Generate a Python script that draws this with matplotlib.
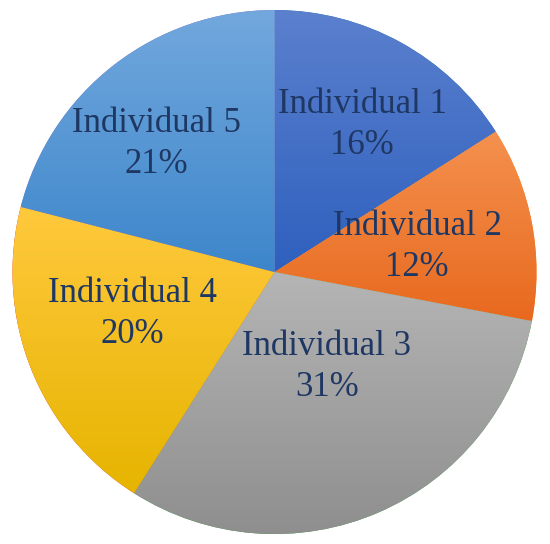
import matplotlib
matplotlib.use('Agg')
import matplotlib.pyplot as plt
import numpy as np
from matplotlib.colors import LinearSegmentedColormap

# data
names = ["Individual 1", "Individual 2", "Individual 3", "Individual 4", "Individual 5"]
shares = [16, 12, 31, 20, 21]

# gradient colours (top -> bottom) for each slice, Excel-like
top_colors = ["#5B80CE", "#F4914F", "#B5B5B5", "#FFC93D", "#72A8DD"]
bottom_colors = ["#2E60BE", "#E8691E", "#8E8E8E", "#E6B400", "#3D86CB"]

# label centres (pie radius units)
label_xy = [(0.334, 0.561), (0.544, 0.095), (0.200, -0.363), (-0.542, -0.160), (-0.452, 0.489)]
text_color = "#1F3763"

fig = plt.figure(figsize=(5.5, 5.44), dpi=100)
ax = fig.add_axes([0, 0, 1, 1])

wedges, _ = ax.pie(shares, startangle=90, counterclock=False, radius=1,
                   wedgeprops=dict(linewidth=0))

grad = np.linspace(0, 1, 256).reshape(-1, 1)
for w, ct, cb in zip(wedges, top_colors, bottom_colors):
    verts = w.get_path().vertices
    x0, y0 = verts.min(axis=0)
    x1, y1 = verts.max(axis=0)
    cmap = LinearSegmentedColormap.from_list("g", [ct, cb])
    im = ax.imshow(grad, cmap=cmap, extent=(x0, x1, y0, y1), origin='upper',
                   aspect='auto', interpolation='bilinear', zorder=2)
    im.set_clip_path(w)

for name, s, (x, y) in zip(names, shares, label_xy):
    ax.text(x, y, f"{name}\n{s}%", ha='center', va='center', fontsize=25,
            family='Liberation Serif', color=text_color, linespacing=1.32, zorder=3)

# pie centre at (274.5, 272) px, radius 262 px
ax.set_xlim(-274.5 / 262, (550 - 274.5) / 262)
ax.set_ylim(-(544 - 272) / 262, 272 / 262)
ax.set_aspect('auto')
ax.axis('off')

fig.savefig("out.png", dpi=100)
